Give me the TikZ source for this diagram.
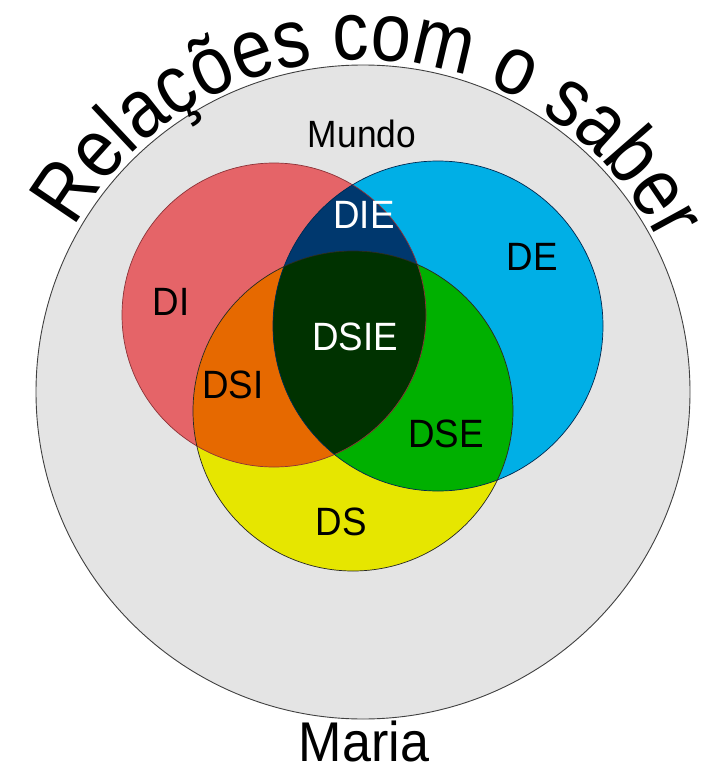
\documentclass[tikz,border=0pt]{standalone}
\usepackage{fontspec}
\setmainfont{Liberation Sans}
\newfontfamily\titlefont[FakeStretch=0.87]{Liberation Sans}
\newfontfamily\labelfont[FakeStretch=0.93]{Liberation Sans}
\usetikzlibrary{decorations.text}
\definecolor{cMundo}{RGB}{228,228,228}
\definecolor{cI}{RGB}{229,100,104}
\definecolor{cE}{RGB}{0,175,230}
\definecolor{cS}{RGB}{230,230,0}
\definecolor{cIE}{RGB}{0,56,110}
\definecolor{cSI}{RGB}{230,105,0}
\definecolor{cSE}{RGB}{0,176,0}
\definecolor{cSIE}{RGB}{0,50,0}
\begin{document}
\begin{tikzpicture}[x=1pt,y=1pt,
  lbl/.style={font=\labelfont\fontsize{39.5}{39.5}\selectfont, anchor=base, inner sep=0pt},
  ring/.style={line width=0.7pt, draw=black!85}]
\useasboundingbox (0,0) rectangle (707,-765);
\coordinate (M) at (363,-392);
\coordinate (I) at (274,-315);
\coordinate (E) at (438,-326);
\coordinate (S) at (353,-411);
% world
\fill[cMundo] (M) circle[radius=327];
\draw[line width=0.9pt, draw=black!75] (M) circle[radius=327];
% base circles
\fill[cI] (I) circle[radius=152];
\fill[cE] (E) circle[radius=165];
\fill[cS] (S) circle[radius=160];
% intersections
\begin{scope}
  \clip (I) circle[radius=152];
  \fill[cIE] (E) circle[radius=165];
  \fill[cSI] (S) circle[radius=160];
\end{scope}
\begin{scope}
  \clip (E) circle[radius=165];
  \fill[cSE] (S) circle[radius=160];
\end{scope}
\begin{scope}
  \clip (I) circle[radius=152];
  \clip (E) circle[radius=165];
  \fill[cSIE] (S) circle[radius=160];
\end{scope}
% outlines
\draw[ring, draw={rgb,255:red,140;green,50;blue,55}] (I) circle[radius=152];
\draw[ring, draw={rgb,255:red,0;green,40;blue,80}] (E) circle[radius=165];
\draw[ring] (S) circle[radius=160];
% labels
\node[lbl, font=\labelfont\fontsize{38}{38}\selectfont] (mundo) at (362,-147) {Mundo};
\node[lbl] (di) at (171,-315) {DI};
\node[lbl, text=white] (die) at (364,-228) {DIE};
\node[lbl] (de) at (532,-270) {DE};
\node[lbl, text=white] (dsie) at (355,-350) {DSIE};
\node[lbl] (dsi) at (233,-398) {DSI};
\node[lbl] (dse) at (446,-447) {DSE};
\node[lbl] (ds) at (341,-535) {DS};
\node[font=\labelfont\fontsize{56}{56}\selectfont, anchor=base, inner sep=0pt] (maria) at (364,-761) {Maria};
% title along arc
\path[decorate, decoration={text along path, text align=center,
  text={|\titlefont\fontsize{83}{83}\selectfont|Relações com o saber}}]
  (M) ++(175:332) arc[start angle=175, end angle=2, radius=332];
\end{tikzpicture}
\end{document}
